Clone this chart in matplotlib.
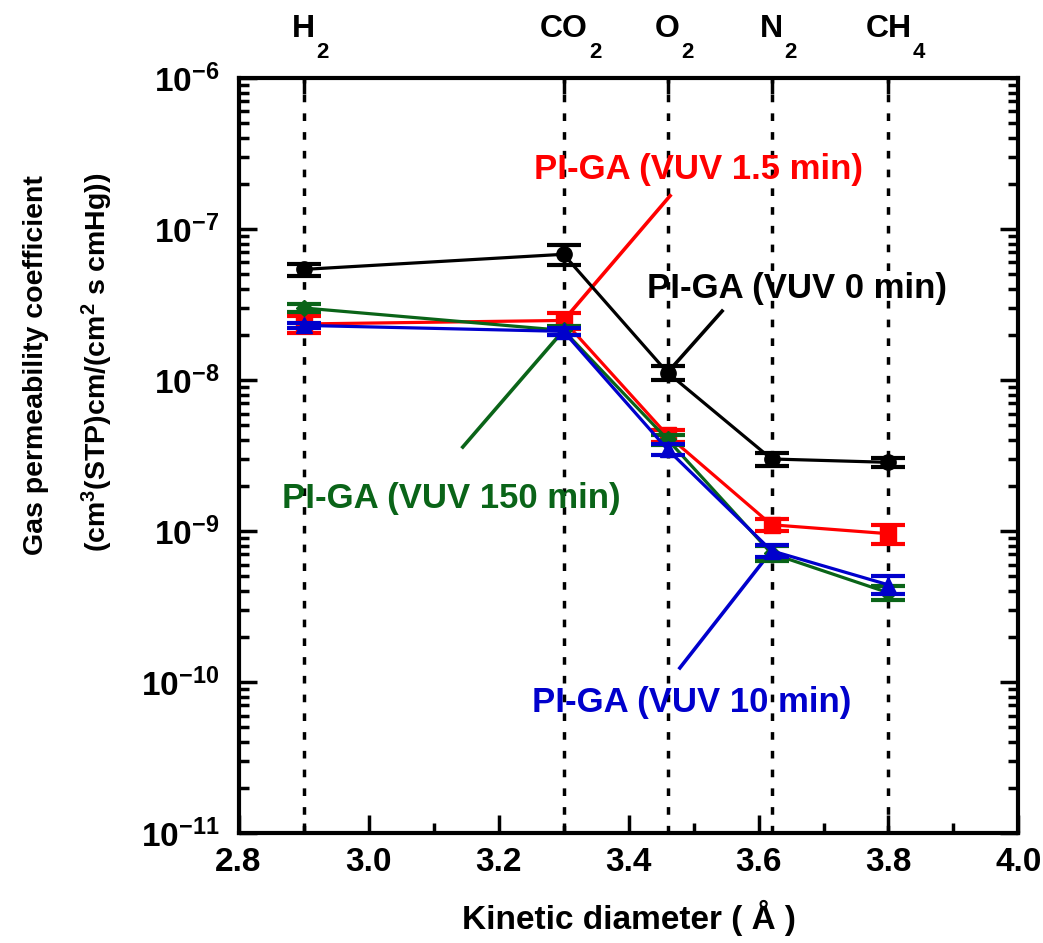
import matplotlib
matplotlib.use("Agg")
import matplotlib.pyplot as plt
import numpy as np
from matplotlib.ticker import MultipleLocator, FixedLocator, NullFormatter, FuncFormatter

plt.rcParams['font.family'] = ['Liberation Sans', 'DejaVu Sans']
plt.rcParams['font.weight'] = 'bold'
plt.rcParams['mathtext.fontset'] = 'custom'
plt.rcParams['mathtext.rm'] = 'Liberation Sans:bold'
plt.rcParams['mathtext.bf'] = 'Liberation Sans:bold'
plt.rcParams['mathtext.default'] = 'bf'

# Gases (formula body, subscript) and kinetic diameters (Å)
gas_body = ["H", "CO", "O", "N", "CH"]
gas_sub = ["2", "2", "2", "2", "4"]
diam = [2.90, 3.30, 3.46, 3.62, 3.80]

# Permeability coefficients and their uncertainties
p_0min = [5.4e-8, 6.8e-8, 1.12e-8, 3.0e-9, 2.85e-9]
e_0min = [0.5e-8, 1.0e-8, 0.12e-8, 0.3e-9, 0.2e-9]
p_1p5min = [2.35e-8, 2.48e-8, 4.3e-9, 1.1e-9, 9.6e-10]
e_1p5min = [0.3e-8, 0.3e-8, 0.4e-9, 0.1e-9, 1.4e-10]
p_150min = [3.0e-8, 2.13e-8, 4.04e-9, 7.1e-10, 3.9e-10]
e_150min = [0.2e-8, 0.15e-8, 0.3e-9, 0.8e-10, 0.4e-10]
p_10min = [2.3e-8, 2.1e-8, 3.47e-9, 7.4e-10, 4.4e-10]
e_10min = [0.1e-8, 0.1e-8, 0.3e-9, 0.7e-10, 0.6e-10]

labels = ["PI-GA (VUV 0 min)", "PI-GA (VUV 1.5 min)",
          "PI-GA (VUV 150 min)", "PI-GA (VUV 10 min)"]
colors = ["black", "#ff0000", "#0a6418", "#0000cc"]

fig = plt.figure(figsize=(10.43, 9.43), dpi=100)
ax = fig.add_axes([0.2287, 0.1166, 0.7478, 0.8007])
ax.set_xlim(2.8, 4.0)
ax.set_yscale('log')
ax.set_ylim(1e-11, 1e-6)

# vertical dotted guides at each gas
for d in diam:
    ax.axvline(d, color='black', lw=2.5, ls=(0, (2.2, 3.2)), zorder=1)

series = [
    (p_0min, e_0min, 'o', 11),
    (p_1p5min, e_1p5min, 's', 11),
    (p_150min, e_150min, 'D', 8.5),
    (p_10min, e_10min, '^', 12),
]
for i, (p, e, m, ms) in enumerate(series):
    ax.errorbar(diam, p, yerr=e, color=colors[i], marker=m, ms=ms, lw=2.3,
                elinewidth=2.3, capsize=12, capthick=3, zorder=3 + i)

# series labels: (text baseline position, leader start, leader end at a point)
fs = 25
label_pos = [(3.659, 3.49e-8), (3.507, 2.14e-7), (3.128, 1.42e-9), (3.497, 6.33e-11)]
leader_from = [(3.544, 2.86e-8), (3.464, 1.66e-7), (3.145, 3.6e-9), (3.479, 1.24e-10)]
leader_to = [(diam[2], p_0min[2]), (diam[1], p_1p5min[1]),
             (diam[1], p_150min[1]), (diam[3], p_10min[3])]
for lab, c, (tx, ty), (x0, y0), (x1, y1) in zip(labels, colors, label_pos,
                                                 leader_from, leader_to):
    ax.text(tx, ty, lab, color=c, fontsize=fs, fontweight='bold',
            ha='center', va='baseline', zorder=10)
    ax.plot([x0, x1], [y0, y1], color=c, lw=2.6, zorder=2.5)

# axes styling
for s in ax.spines.values():
    s.set_linewidth(3)
ax.xaxis.set_major_locator(MultipleLocator(0.2))
ax.xaxis.set_minor_locator(MultipleLocator(0.1))
ax.xaxis.set_major_formatter(FuncFormatter(lambda v, _: f"{v:.1f}"))
decades = np.arange(-11, -5)
ax.yaxis.set_major_locator(FixedLocator(10.0 ** decades))
ax.yaxis.set_minor_locator(FixedLocator(
    [k * 10.0 ** d for d in decades[:-1] for k in range(2, 10)]))
ax.yaxis.set_minor_formatter(NullFormatter())
ax.yaxis.set_major_formatter(FuncFormatter(lambda v, _: r"10$^{%d}$" % round(np.log10(v))))
ax.tick_params(axis='both', which='major', direction='in', length=13, width=2.5,
               labelsize=24, top=False, right=True, pad=10)
ax.tick_params(axis='both', which='minor', direction='in', length=7, width=2.5,
               top=False, right=True)
ax.tick_params(axis='y', which='major', pad=14)
for lab in ax.get_xticklabels() + ax.get_yticklabels():
    lab.set_fontweight('bold')

# gas ticks and names along the top
for d, body, sub in zip(diam, gas_body, gas_sub):
    ax.plot([d, d], [1, 0.982], color='black', lw=2.5, clip_on=False,
            transform=ax.get_xaxis_transform(), zorder=5)
    t = ax.text(d, 0.9608, body, fontsize=23, fontweight='bold', ha='center',
                va='baseline',
                transform=matplotlib.transforms.blended_transform_factory(
                    ax.transData, fig.transFigure))
    ax.annotate(sub, xy=(1.0, 0.9385), xycoords=(t, 'figure fraction'),
                xytext=(1, 0), textcoords='offset points', fontsize=16,
                fontweight='bold', ha='left', va='baseline')

ax.set_xlabel("Kinetic diameter ( Å )", fontsize=24, fontweight='bold', labelpad=16)

# two-line y-axis title
fig.text(23 / 1043, 1 - 365 / 943, "Gas permeability coefficient",
         rotation=90, fontsize=20.5, fontweight='bold', ha='left', va='center')
fig.text(80 / 1043, 1 - 362 / 943, "(cm$^3$(STP)cm/(cm$^2$ s cmHg))",
         rotation=90, fontsize=20.5, fontweight='bold', ha='left', va='center')

fig.savefig("out.png", dpi=100)
